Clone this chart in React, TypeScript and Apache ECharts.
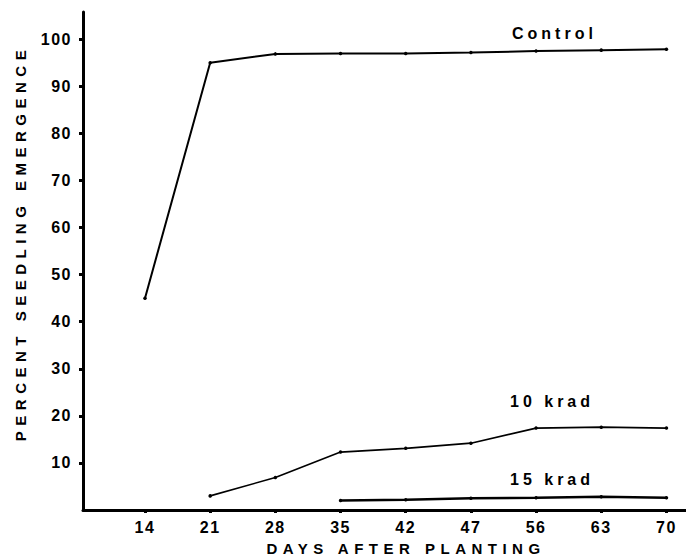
import React, { useEffect, useRef } from "react";
import * as echarts from "echarts";

const days = ["14", "21", "28", "35", "42", "47", "56", "63", "70"];
const control = [45, 95, 96.9, 97, 97, 97.2, 97.5, 97.7, 97.9];
const krad10 = [null, 3.0, 6.9, 12.3, 13.1, 14.2, 17.4, 17.6, 17.4];
const krad15 = [null, null, null, 2.0, 2.2, 2.5, 2.6, 2.8, 2.6];
const yTicks = [10, 20, 30, 40, 50, 60, 70, 80, 90, 100];
const seriesNames = ["Control", "10 krad", "15 krad"];
const xTitle = "DAYS AFTER PLANTING";
const yTitle = "PERCENT SEEDLING EMERGENCE";

const toPoints = (arr: (number | null)[]) =>
  arr.map((v, i) => (v == null ? null : [i, v])).filter((p) => p !== null);

const FONT = "'Liberation Sans', Arial, sans-serif";

export default function App() {
  const ref = useRef<HTMLDivElement>(null);
  useEffect(() => {
    if (!ref.current) return;
    const chart = echarts.init(ref.current, null, { renderer: "svg" });
    const lineSeries = (name: string, arr: (number | null)[], w: number) => ({
      name,
      type: "line",
      data: toPoints(arr),
      symbol: "circle",
      symbolSize: 3.5,
      itemStyle: { color: "#000" },
      lineStyle: { color: "#000", width: w },
      silent: true,
    });
    const textEl = (text: string, x: number, y: number, align: string, size: number, extra: any = {}) => ({
      type: "text",
      x,
      y,
      ...extra,
      style: {
        text,
        fill: "#000",
        font: `bold ${size}px ${FONT}`,
        align,
        verticalAlign: "middle",
      },
    });
    const option: any = {
      animation: false,
      backgroundColor: "#fff",
      grid: { left: 83, right: 0, top: 12, bottom: 46 },
      xAxis: {
        type: "value",
        min: -0.951,
        max: 8.3,
        splitLine: { show: false },
        axisLine: { show: true, onZero: false, lineStyle: { color: "#000", width: 3 } },
        axisTick: {
          show: true,
          customValues: days.map((_, i) => i),
          length: 3,
          lineStyle: { color: "#000", width: 3 },
        },
        axisLabel: {
          customValues: days.map((_, i) => i),
          formatter: (v: number) => days[Math.round(v)] ?? "",
          color: "#000",
          fontFamily: FONT,
          fontWeight: "bold",
          fontSize: 16,
          margin: 9,
        },
      },
      yAxis: {
        type: "value",
        min: 0,
        max: 105.8,
        splitLine: { show: false },
        axisLine: { show: true, onZero: false, lineStyle: { color: "#000", width: 3 } },
        axisTick: {
          show: true,
          customValues: yTicks,
          length: 4,
          lineStyle: { color: "#000", width: 3 },
        },
        axisLabel: {
          customValues: yTicks,
          color: "#000",
          fontFamily: FONT,
          fontWeight: "bold",
          fontSize: 16,
          margin: 11,
        },
      },
      series: [
        lineSeries(seriesNames[0], control, 2),
        lineSeries(seriesNames[1], krad10, 1.6),
        lineSeries(seriesNames[2], krad15, 2.5),
      ],
      graphic: [
        textEl(seriesNames[0], 512, 33, "left", 16),
        textEl(seriesNames[1], 510, 401, "left", 16),
        textEl(seriesNames[2], 510, 479, "left", 16),
        textEl(xTitle, 406, 548, "center", 15),
        textEl(yTitle, 20, 243, "center", 15, { rotation: Math.PI / 2 }),
      ],
    };
    chart.setOption(option);
    const spacing: Record<string, string> = {
      [xTitle]: "5.5px",
      [yTitle]: "5.5px",
      [seriesNames[0]]: "4px",
      [seriesNames[1]]: "4px",
      [seriesNames[2]]: "4px",
    };
    ref.current.querySelectorAll("text").forEach((t) => {
      const c = (t.textContent || "").trim();
      const s = spacing[c];
      if (s) t.setAttribute("letter-spacing", s);
      else if (/^\d+$/.test(c)) t.setAttribute("letter-spacing", "1.5px");
    });
    return () => chart.dispose();
  }, []);
  return (
    <div
      ref={ref}
      style={{ position: "fixed", left: 0, top: 0, width: 686, height: 556, background: "#fff" }}
    />
  );
}
